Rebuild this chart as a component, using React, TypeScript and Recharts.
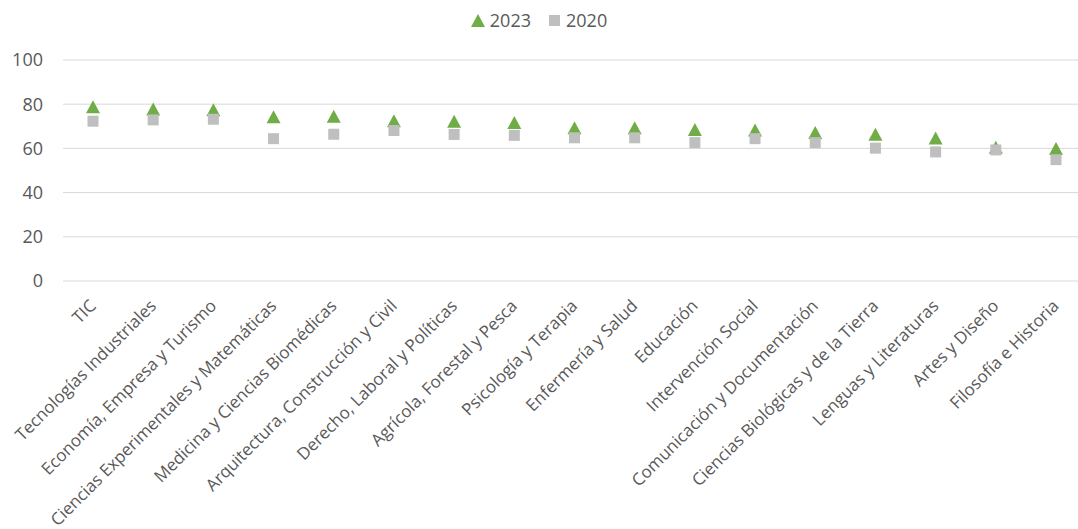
import React from "react";
import { LineChart, Line, XAxis, YAxis, CartesianGrid, Legend } from "recharts";

const categories = [
  "TIC",
  "Tecnologías Industriales",
  "Economía, Empresa y Turismo",
  "Ciencias Experimentales y Matemáticas",
  "Medicina y Ciencias Biomédicas",
  "Arquitectura, Construcción y Civil",
  "Derecho, Laboral y Políticas",
  "Agrícola, Forestal y Pesca",
  "Psicología y Terapia",
  "Enfermería y Salud",
  "Educación",
  "Intervención Social",
  "Comunicación y Documentación",
  "Ciencias Biológicas y de la Tierra",
  "Lenguas y Literaturas",
  "Artes y Diseño",
  "Filosofía e Historia",
];
const values2023 = [78.9, 77.8, 77.5, 74.3, 74.5, 72.5, 72.3, 71.7, 69.4, 69.4, 68.6, 68.3, 67.2, 66.4, 64.7, 60.5, 60.0];
const values2020 = [72.3, 72.9, 73.2, 64.4, 66.4, 68.1, 66.3, 65.9, 64.8, 64.8, 62.6, 64.4, 62.6, 60.1, 58.4, 59.3, 54.9];
const yTicks = [0, 20, 40, 60, 80, 100];

const data = categories.map((name, i) => ({ name, v2023: values2023[i], v2020: values2020[i] }));

const GREEN = "#70ad47";
const GREY = "#bfbfbf";
const TEXT = "#595959";
const FONT = "'Open Sans', sans-serif";

const Triangle = (props: any) => {
  const { cx, cy } = props;
  if (cx == null || cy == null) return <g key={props.key} />;
  return <polygon key={props.key} points={`${cx},${cy - 6.5} ${cx + 7},${cy + 6.5} ${cx - 7},${cy + 6.5}`} fill={GREEN} />;
};

const Square = (props: any) => {
  const { cx, cy } = props;
  if (cx == null || cy == null) return <g key={props.key} />;
  return <rect key={props.key} x={cx - 5.5} y={cy - 5.5} width={11} height={11} fill={GREY} />;
};

const XTick = ({ x, y, payload }: any) => (
  <g transform={`translate(${x + 4},${y + 18})`}>
    <text x={0} y={0} textAnchor="end" transform="rotate(-45)" fill={TEXT} fontSize={17} fontFamily={FONT}>
      {payload.value}
    </text>
  </g>
);

const LegendContent = () => (
  <div style={{ height: 60, boxSizing: "border-box", display: "flex", justifyContent: "center", alignItems: "flex-start", paddingTop: 8, paddingRight: 8, fontFamily: FONT, fontSize: 18, color: TEXT }}>
    <span style={{ display: "flex", alignItems: "center", marginRight: 18 }}>
      <svg width={14} height={13} style={{ marginRight: 5 }}>
        <polygon points="7,0 14,13 0,13" fill={GREEN} />
      </svg>
      2023
    </span>
    <span style={{ display: "flex", alignItems: "center" }}>
      <svg width={11} height={11} style={{ marginRight: 6 }}>
        <rect x={0} y={0} width={11} height={11} fill={GREY} />
      </svg>
      2020
    </span>
  </div>
);

export default function App() {
  return (
    <div style={{ position: "absolute", left: 0, top: 0, width: 1078, height: 529, overflow: "hidden", background: "#fff" }}>
      <LineChart width={1090} height={529} data={data} margin={{ top: 0, right: 4, bottom: 0, left: 0 }}>
        <Legend verticalAlign="top" content={<LegendContent />} />
        <CartesianGrid vertical={false} stroke="#d9d9d9" strokeWidth={1} />
        <XAxis
          dataKey="name"
          interval={0}
          height={248}
          axisLine={false}
          tickLine={false}
          padding={{ left: 30, right: 30 }}
          tick={<XTick />}
        />
        <YAxis
          domain={[0, 100]}
          ticks={yTicks}
          width={63}
          axisLine={false}
          tickLine={false}
          tickSize={0}
          tickMargin={20}
          tick={{ fill: TEXT, fontSize: 18, fontFamily: FONT }}
        />
        <Line dataKey="v2023" stroke="none" dot={<Triangle />} activeDot={false} isAnimationActive={false} />
        <Line dataKey="v2020" stroke="none" dot={<Square />} activeDot={false} isAnimationActive={false} />
      </LineChart>
    </div>
  );
}
